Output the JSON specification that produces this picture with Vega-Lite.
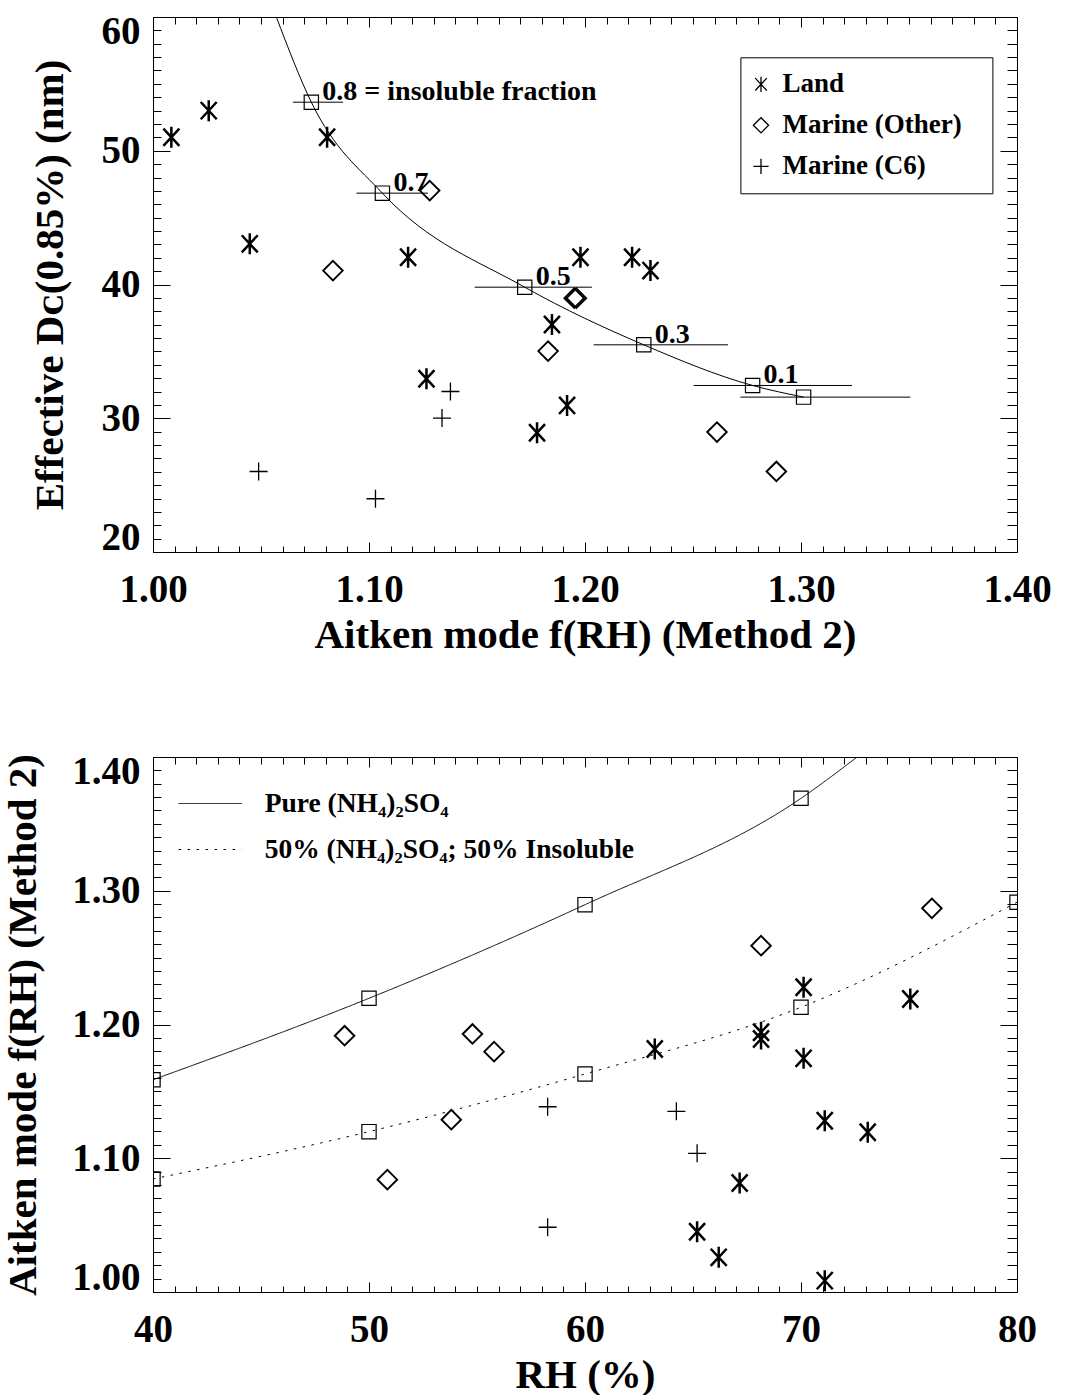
{
  "$schema": "https://vega.github.io/schema/vega-lite/v6.json",
  "background": "white",
  "padding": {"left": 2, "top": 11, "right": 5, "bottom": 0},
  "spacing": 96,
  "datasets": {
    "topObs": [
      {"type": "Land", "f": 1.0085, "dc": 51.01},
      {"type": "Land", "f": 1.0258, "dc": 53.0},
      {"type": "Land", "f": 1.0448, "dc": 43.04},
      {"type": "Land", "f": 1.0806, "dc": 51.01},
      {"type": "Land", "f": 1.1181, "dc": 42.04},
      {"type": "Land", "f": 1.1266, "dc": 32.95},
      {"type": "Land", "f": 1.1778, "dc": 28.92},
      {"type": "Land", "f": 1.1847, "dc": 37.01},
      {"type": "Land", "f": 1.1917, "dc": 30.96},
      {"type": "Land", "f": 1.1979, "dc": 42.04},
      {"type": "Land", "f": 1.2218, "dc": 42.04},
      {"type": "Land", "f": 1.2303, "dc": 41.04},
      {"type": "Marine (Other)", "f": 1.0833, "dc": 41.04},
      {"type": "Marine (Other)", "f": 1.1281, "dc": 47.02},
      {"type": "Marine (Other)", "f": 1.1829, "dc": 35.02},
      {"type": "Marine (Other)", "f": 1.195, "dc": 38.98},
      {"type": "Marine (Other)", "f": 1.196, "dc": 38.98},
      {"type": "Marine (Other)", "f": 1.2611, "dc": 28.97},
      {"type": "Marine (Other)", "f": 1.2886, "dc": 26.02},
      {"type": "Marine (C6)", "f": 1.0489, "dc": 26.02},
      {"type": "Marine (C6)", "f": 1.103, "dc": 23.98},
      {"type": "Marine (C6)", "f": 1.1338, "dc": 30.01},
      {"type": "Marine (C6)", "f": 1.1377, "dc": 32.0}
    ],
    "topModel": [
      {"frac": 0.8, "f": 1.0733, "dc": 53.63, "lo": 1.0648, "hi": 1.088, "label": "0.8 = insoluble fraction"},
      {"frac": 0.7, "f": 1.1062, "dc": 46.83, "lo": 1.0942, "hi": 1.1273, "label": "0.7"},
      {"frac": 0.5, "f": 1.1721, "dc": 39.8, "lo": 1.1489, "hi": 1.2032, "label": "0.5"},
      {"frac": 0.3, "f": 1.2272, "dc": 35.49, "lo": 1.204, "hi": 1.2662, "label": "0.3"},
      {"frac": 0.1, "f": 1.2776, "dc": 32.45, "lo": 1.2503, "hi": 1.3236, "label": "0.1"},
      {"frac": 0.0, "f": 1.3012, "dc": 31.58, "lo": 1.2719, "hi": 1.3506, "label": ""}
    ],
    "topCurve": [
      {"f": 1.0571, "dc": 60.0},
      {"f": 1.0733, "dc": 53.63},
      {"f": 1.1062, "dc": 46.83},
      {"f": 1.1721, "dc": 39.8},
      {"f": 1.2272, "dc": 35.49},
      {"f": 1.2776, "dc": 32.45},
      {"f": 1.3012, "dc": 31.58}
    ],
    "bottomObs": [
      {"type": "Land", "rh": 70.12, "f": 1.2278},
      {"type": "Land", "rh": 75.06, "f": 1.2191},
      {"type": "Land", "rh": 68.15, "f": 1.1942},
      {"type": "Land", "rh": 68.15, "f": 1.1892},
      {"type": "Land", "rh": 63.23, "f": 1.1817},
      {"type": "Land", "rh": 70.12, "f": 1.1747},
      {"type": "Land", "rh": 71.1, "f": 1.1281},
      {"type": "Land", "rh": 73.09, "f": 1.1194},
      {"type": "Land", "rh": 67.16, "f": 1.0815},
      {"type": "Land", "rh": 65.19, "f": 1.0451},
      {"type": "Land", "rh": 66.19, "f": 1.0259},
      {"type": "Land", "rh": 71.1, "f": 1.0085},
      {"type": "Marine (Other)", "rh": 48.87, "f": 1.1916},
      {"type": "Marine (Other)", "rh": 50.85, "f": 1.084},
      {"type": "Marine (Other)", "rh": 53.81, "f": 1.1288},
      {"type": "Marine (Other)", "rh": 54.79, "f": 1.1929},
      {"type": "Marine (Other)", "rh": 55.79, "f": 1.1797},
      {"type": "Marine (Other)", "rh": 68.15, "f": 1.2589},
      {"type": "Marine (Other)", "rh": 76.06, "f": 1.2869},
      {"type": "Marine (C6)", "rh": 58.27, "f": 1.1385},
      {"type": "Marine (C6)", "rh": 64.23, "f": 1.1351},
      {"type": "Marine (C6)", "rh": 65.19, "f": 1.1037},
      {"type": "Marine (C6)", "rh": 58.27, "f": 1.0484}
    ],
    "bottomSquares": [
      {"model": "Pure (NH₄)₂SO₄", "rh": 40, "f": 1.1587},
      {"model": "Pure (NH₄)₂SO₄", "rh": 50, "f": 1.2196},
      {"model": "Pure (NH₄)₂SO₄", "rh": 60, "f": 1.2896},
      {"model": "Pure (NH₄)₂SO₄", "rh": 70, "f": 1.3691},
      {"model": "50% (NH₄)₂SO₄; 50% Insoluble", "rh": 40, "f": 1.0845},
      {"model": "50% (NH₄)₂SO₄; 50% Insoluble", "rh": 50, "f": 1.1199},
      {"model": "50% (NH₄)₂SO₄; 50% Insoluble", "rh": 60, "f": 1.163},
      {"model": "50% (NH₄)₂SO₄; 50% Insoluble", "rh": 70, "f": 1.2129},
      {"model": "50% (NH₄)₂SO₄; 50% Insoluble", "rh": 80, "f": 1.2914}
    ],
    "bottomCurve": [
      {"model": "Pure (NH₄)₂SO₄", "rh": 40, "f": 1.1587},
      {"model": "Pure (NH₄)₂SO₄", "rh": 50, "f": 1.2196},
      {"model": "Pure (NH₄)₂SO₄", "rh": 60, "f": 1.2896},
      {"model": "Pure (NH₄)₂SO₄", "rh": 70, "f": 1.3691},
      {"model": "Pure (NH₄)₂SO₄", "rh": 72.6, "f": 1.4},
      {"model": "50% (NH₄)₂SO₄; 50% Insoluble", "rh": 40, "f": 1.0845},
      {"model": "50% (NH₄)₂SO₄; 50% Insoluble", "rh": 50, "f": 1.1199},
      {"model": "50% (NH₄)₂SO₄; 50% Insoluble", "rh": 60, "f": 1.163},
      {"model": "50% (NH₄)₂SO₄; 50% Insoluble", "rh": 70, "f": 1.2129},
      {"model": "50% (NH₄)₂SO₄; 50% Insoluble", "rh": 80, "f": 1.2914}
    ]
  },
  "vconcat": [
    {
      "width": 864,
      "height": 535,
      "layer": [
        {
          "data": {"name": "topObs"},
          "mark": {"type": "point", "filled": false, "color": "black", "opacity": 1},
          "encoding": {
            "x": {
              "field": "f", "type": "quantitative",
              "scale": {"domain": [1.0, 1.4], "nice": false, "zero": false},
              "axis": {
                "orient": "bottom",
                "values": [1.0,1.01,1.02,1.03,1.04,1.05,1.06,1.07,1.08,1.09,1.1,1.11,1.12,1.13,1.14,1.15,1.16,1.17,1.18,1.19,1.2,1.21,1.22,1.23,1.24,1.25,1.26,1.27,1.28,1.29,1.3,1.31,1.32,1.33,1.34,1.35,1.36,1.37,1.38,1.39,1.4],
                "tickSize": {"condition": {"test": "abs(round(datum.value*100)) % 10 === 0", "value": -10}, "value": -6},
                "labelExpr": "abs(round(datum.value*100)) % 10 === 0 ? format(datum.value, '.2f') : ''",
                "labelPadding": 28,
                "labelFlush": false,
                "title": "Aitken mode f(RH) (Method 2)",
                "titlePadding": 2
              }
            },
            "y": {
              "field": "dc", "type": "quantitative",
              "scale": {"domain": [20, 60], "nice": false, "zero": false},
              "axis": {
                "orient": "left",
                "values": [20,21,22,23,24,25,26,27,28,29,30,31,32,33,34,35,36,37,38,39,40,41,42,43,44,45,46,47,48,49,50,51,52,53,54,55,56,57,58,59,60],
                "tickSize": {"condition": {"test": "datum.value % 10 === 0", "value": -17}, "value": -8},
                "labelExpr": "datum.value % 10 === 0 ? datum.label : ''",
                "labelPadding": 30,
                "labelFlush": true,
                "labelFlushOffset": 5,
                "title": "Effective Dᴄ(0.85%) (nm)",
                "titlePadding": 30
              }
            },
            "shape": {
              "field": "type", "type": "nominal",
              "scale": {
                "domain": ["Land", "Marine (Other)", "Marine (C6)"],
                "range": ["M0,-1L0,1M-0.76,-0.82L0.76,0.82M-0.76,0.82L0.76,-0.82", "diamond", "M-1,0L1,0M0,-1L0,1"]
              },
              "legend": {
                "orient": "none",
                "legendX": 587.4,
                "legendY": 40.3,
                "title": "\u00a0",
                "titleOrient": "right",
                "titlePadding": 17,
                "titleFontSize": 27,
                "strokeColor": "black",
                "fillColor": "white",
                "padding": 13.5,
                "rowPadding": 13,
                "symbolSize": 230,
                "symbolStrokeWidth": 1.3,
                "symbolStrokeColor": "black",
                "symbolFillColor": "transparent",
                "symbolOffset": -6.4,
                "labelFont": "Liberation Serif",
                "labelFontWeight": "bold",
                "labelFontSize": 27,
                "labelColor": "black",
                "labelOffset": 8,
                "labelLimit": 0
              }
            },
            "size": {
              "field": "type", "type": "nominal",
              "scale": {"domain": ["Land", "Marine (Other)", "Marine (C6)"], "range": [441, 324, 324]},
              "legend": null
            },
            "strokeWidth": {
              "field": "type", "type": "nominal",
              "scale": {"domain": ["Land", "Marine (Other)", "Marine (C6)"], "range": [2.5, 1.3, 1.3]},
              "legend": null
            }
          }
        },
        {
          "data": {"name": "topModel"},
          "mark": {"type": "point", "shape": "square", "filled": false, "color": "black", "size": 204, "strokeWidth": 1.2, "opacity": 1},
          "encoding": {
            "x": {
              "field": "f", "type": "quantitative",
              "scale": {"domain": [1.0, 1.4], "nice": false, "zero": false},
              "axis": {
                "orient": "top",
                "values": [1.0,1.01,1.02,1.03,1.04,1.05,1.06,1.07,1.08,1.09,1.1,1.11,1.12,1.13,1.14,1.15,1.16,1.17,1.18,1.19,1.2,1.21,1.22,1.23,1.24,1.25,1.26,1.27,1.28,1.29,1.3,1.31,1.32,1.33,1.34,1.35,1.36,1.37,1.38,1.39,1.4],
                "tickSize": {"condition": {"test": "abs(round(datum.value*100)) % 10 === 0", "value": -10}, "value": -7},
                "labels": false,
                "title": null
              }
            },
            "y": {
              "field": "dc", "type": "quantitative",
              "scale": {"domain": [20, 60], "nice": false, "zero": false},
              "axis": {
                "orient": "right",
                "values": [20,21,22,23,24,25,26,27,28,29,30,31,32,33,34,35,36,37,38,39,40,41,42,43,44,45,46,47,48,49,50,51,52,53,54,55,56,57,58,59,60],
                "tickSize": {"condition": {"test": "datum.value % 10 === 0", "value": -17}, "value": -10},
                "labels": false,
                "title": null
              }
            }
          }
        },
        {
          "data": {"name": "topCurve"},
          "mark": {"type": "line", "interpolate": "monotone", "color": "black", "strokeWidth": 1, "clip": true},
          "encoding": {
            "x": {"field": "f", "type": "quantitative", "scale": {"domain": [1.0, 1.4], "nice": false, "zero": false}, "axis": null},
            "y": {"field": "dc", "type": "quantitative", "scale": {"domain": [20, 60], "nice": false, "zero": false}, "axis": null}
          }
        },
        {
          "data": {"name": "topModel"},
          "mark": {"type": "rule", "color": "black", "strokeWidth": 1},
          "encoding": {
            "x": {"field": "lo", "type": "quantitative", "scale": {"domain": [1.0, 1.4], "nice": false, "zero": false}, "axis": null},
            "x2": {"field": "hi"},
            "y": {"field": "dc", "type": "quantitative", "scale": {"domain": [20, 60], "nice": false, "zero": false}, "axis": null}
          }
        },
        {
          "data": {"name": "topModel"},
          "transform": [{"filter": "datum.label != ''"}],
          "mark": {"type": "text", "align": "left", "baseline": "alphabetic", "dx": 11, "dy": -2, "font": "Liberation Serif", "fontWeight": "bold", "fontSize": 28, "color": "black"},
          "encoding": {
            "x": {"field": "f", "type": "quantitative", "scale": {"domain": [1.0, 1.4], "nice": false, "zero": false}, "axis": null},
            "y": {"field": "dc", "type": "quantitative", "scale": {"domain": [20, 60], "nice": false, "zero": false}, "axis": null},
            "text": {"field": "label"}
          }
        }
      ],
      "resolve": {"axis": {"x": "independent", "y": "independent"}}
    },
    {
      "width": 864,
      "height": 535,
      "layer": [
        {
          "data": {"name": "bottomObs"},
          "mark": {"type": "point", "filled": false, "color": "black", "opacity": 1},
          "encoding": {
            "x": {
              "field": "rh", "type": "quantitative",
              "scale": {"domain": [40, 80], "nice": false, "zero": false},
              "axis": {
                "orient": "bottom",
                "values": [40,41,42,43,44,45,46,47,48,49,50,51,52,53,54,55,56,57,58,59,60,61,62,63,64,65,66,67,68,69,70,71,72,73,74,75,76,77,78,79,80],
                "tickSize": {"condition": {"test": "datum.value % 10 === 0", "value": -10}, "value": -6},
                "labelExpr": "datum.value % 10 === 0 ? datum.label : ''",
                "labelPadding": 28,
                "labelFlush": false,
                "title": "RH (%)",
                "titlePadding": 2
              }
            },
            "y": {
              "field": "f", "type": "quantitative",
              "scale": {"domain": [1.0, 1.4], "nice": false, "zero": false},
              "axis": {
                "orient": "left",
                "values": [1.0,1.01,1.02,1.03,1.04,1.05,1.06,1.07,1.08,1.09,1.1,1.11,1.12,1.13,1.14,1.15,1.16,1.17,1.18,1.19,1.2,1.21,1.22,1.23,1.24,1.25,1.26,1.27,1.28,1.29,1.3,1.31,1.32,1.33,1.34,1.35,1.36,1.37,1.38,1.39,1.4],
                "tickSize": {"condition": {"test": "abs(round(datum.value*100)) % 10 === 0", "value": -17}, "value": -8},
                "labelExpr": "abs(round(datum.value*100)) % 10 === 0 ? format(datum.value, '.2f') : ''",
                "labelPadding": 30,
                "labelFlush": true,
                "labelFlushOffset": 5,
                "title": "Aitken mode f(RH) (Method 2)",
                "titlePadding": 27
              }
            },
            "shape": {
              "field": "type", "type": "nominal",
              "scale": {
                "domain": ["Land", "Marine (Other)", "Marine (C6)"],
                "range": ["M0,-1L0,1M-0.76,-0.82L0.76,0.82M-0.76,0.82L0.76,-0.82", "diamond", "M-1,0L1,0M0,-1L0,1"]
              },
              "legend": null
            },
            "size": {
              "field": "type", "type": "nominal",
              "scale": {"domain": ["Land", "Marine (Other)", "Marine (C6)"], "range": [441, 324, 324]},
              "legend": null
            },
            "strokeWidth": {
              "field": "type", "type": "nominal",
              "scale": {"domain": ["Land", "Marine (Other)", "Marine (C6)"], "range": [2.5, 1.3, 1.3]},
              "legend": null
            }
          }
        },
        {
          "data": {"name": "bottomSquares"},
          "mark": {"type": "point", "shape": "square", "filled": false, "color": "black", "size": 204, "strokeWidth": 1.2, "opacity": 1, "clip": true},
          "encoding": {
            "x": {
              "field": "rh", "type": "quantitative",
              "scale": {"domain": [40, 80], "nice": false, "zero": false},
              "axis": {
                "orient": "top",
                "values": [40,41,42,43,44,45,46,47,48,49,50,51,52,53,54,55,56,57,58,59,60,61,62,63,64,65,66,67,68,69,70,71,72,73,74,75,76,77,78,79,80],
                "tickSize": {"condition": {"test": "datum.value % 10 === 0", "value": -10}, "value": -7},
                "labels": false,
                "title": null
              }
            },
            "y": {
              "field": "f", "type": "quantitative",
              "scale": {"domain": [1.0, 1.4], "nice": false, "zero": false},
              "axis": {
                "orient": "right",
                "values": [1.0,1.01,1.02,1.03,1.04,1.05,1.06,1.07,1.08,1.09,1.1,1.11,1.12,1.13,1.14,1.15,1.16,1.17,1.18,1.19,1.2,1.21,1.22,1.23,1.24,1.25,1.26,1.27,1.28,1.29,1.3,1.31,1.32,1.33,1.34,1.35,1.36,1.37,1.38,1.39,1.4],
                "tickSize": {"condition": {"test": "abs(round(datum.value*100)) % 10 === 0", "value": -17}, "value": -10},
                "labels": false,
                "title": null
              }
            }
          }
        },
        {
          "data": {"name": "bottomCurve"},
          "mark": {"type": "line", "interpolate": "monotone", "color": "black", "strokeWidth": 1, "clip": true},
          "encoding": {
            "x": {"field": "rh", "type": "quantitative", "scale": {"domain": [40, 80], "nice": false, "zero": false}, "axis": null},
            "y": {"field": "f", "type": "quantitative", "scale": {"domain": [1.0, 1.4], "nice": false, "zero": false}, "axis": null},
            "strokeDash": {
              "field": "model", "type": "nominal",
              "scale": {"domain": ["Pure (NH₄)₂SO₄", "50% (NH₄)₂SO₄; 50% Insoluble"], "range": [[1, 0], [2.5, 6.5]]},
              "legend": {
                "orient": "none",
                "legendX": 24.7,
                "legendY": 14,
                "title": null,
                "padding": 0,
                "rowPadding": 0,
                "symbolType": "stroke",
                "symbolSize": 4000,
                "symbolStrokeWidth": 1,
                "symbolStrokeColor": "black",
                "labelFont": "Liberation Serif",
                "labelFontWeight": "bold",
                "labelFontSize": 27.5,
                "labelColor": "black",
                "labelOffset": 22,
                "labelLimit": 0
              }
            }
          }
        }
      ],
      "resolve": {"axis": {"x": "independent", "y": "independent"}}
    }
  ],
  "resolve": {"legend": {"shape": "independent", "strokeDash": "independent"}},
  "config": {
    "view": {"stroke": null},
    "axis": {
      "grid": false,
      "domain": true,
      "domainColor": "black",
      "domainWidth": 1,
      "tickColor": "black",
      "tickWidth": 1,
      "labelFont": "Liberation Serif",
      "labelFontWeight": "bold",
      "labelFontSize": 39,
      "labelColor": "black",
      "labelOverlap": false,
      "labelBound": false,
      "titleFont": "Liberation Serif",
      "titleFontWeight": "bold",
      "titleFontSize": 41,
      "titleColor": "black"
    }
  }
}
